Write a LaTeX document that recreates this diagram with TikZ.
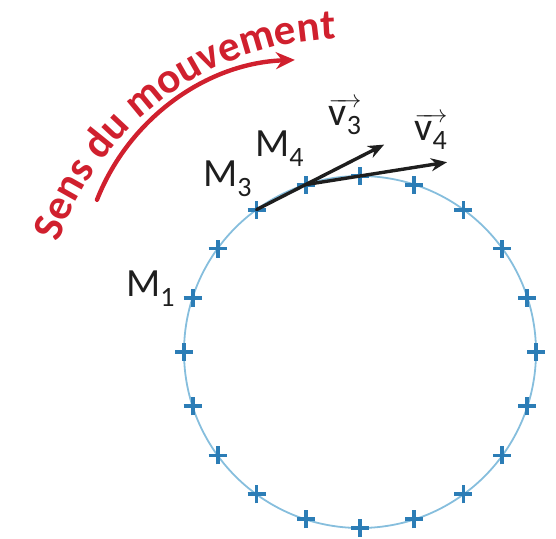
\documentclass[tikz,border=0pt]{standalone}
\usepackage{fontspec}
\setmainfont{Carlito}
\usetikzlibrary{arrows.meta,calc,decorations.text}
\definecolor{ink}{HTML}{1E1E1E}
\definecolor{redq}{HTML}{D0202E}
\definecolor{orbit}{HTML}{86BEDD}
\definecolor{bluex}{HTML}{2C7DB6}

\begin{document}
\begin{tikzpicture}[x=1pt,y=1pt,line cap=round,line join=round,
  lbl/.style={font=\fontsize{40}{44}\selectfont,ink,inner sep=0pt},
  vec/.style={-{Stealth[length=16pt,width=13pt]},ink,line width=3.4pt},
  crossmark/.style={bluex,line width=3.8pt,line cap=butt}]
  \useasboundingbox (0,0) rectangle (556,538);

  % Circular path with the recorded positions
  \coordinate (O) at (360,186);
  \draw[orbit,line width=1.8pt] (O) circle[radius=176];
  \foreach \n in {1,...,20}{
    \coordinate (M\n) at ($(O)+({180-18*\n}:176)$);
    \draw[crossmark] (M\n) ++(-9,0) -- ++(18,0) (M\n) ++(0,-9) -- ++(0,18);
  }

  % Velocity vectors
  \coordinate (t3) at ($(M3)!2.6!(M4)$);
  \coordinate (t4) at ($(M4)!2.6!(M5)$);
  \draw[vec] (M3) -- (t3);
  \draw[vec] (M4) -- (t4);

  % Labels
  \node[lbl] (m1) at ($(M1)+(-42,9)$) {M\textsubscript{1}};
  \node[lbl] (m3) at ($(M3)+(-29,31)$) {M\textsubscript{3}};
  \node[lbl] (m4) at ($(M4)+(-26,36)$) {M\textsubscript{4}};
  \node[lbl] (v3) at ($(t3)+(-39,28)$)
    {$\overrightarrow{\mbox{v\textsubscript{3}}}$};
  \node[lbl] (v4) at ($(t4)+(-16,31)$)
    {$\overrightarrow{\mbox{v\textsubscript{4}}}$};

  % Direction of motion
  \coordinate (S) at (302.6,257.2);
  \draw[redq,line width=4.4pt,-{Stealth[length=19pt,width=17pt]}]
    ($(S)+(158.5:221)$) arc[start angle=158.5,end angle=92,radius=221];
  \coordinate (T) at (345.5,195.4);
  \path[decorate,decoration={text along path,text align=left,
      text={|\color{redq}\bfseries\fontsize{43}{50}\selectfont|Sens du mouvement}}]
    ($(T)+(160.7:304)$) arc[start angle=160.7,end angle=80,radius=304];
\end{tikzpicture}
\end{document}
